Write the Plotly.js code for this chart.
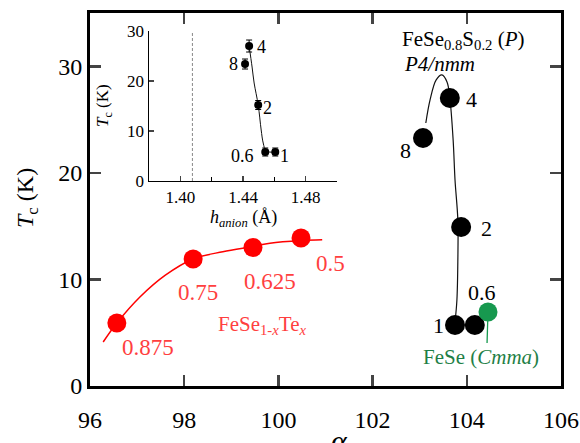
<!DOCTYPE html>
<html>
<head>
<meta charset="utf-8">
<script src="https://cdn.plot.ly/plotly-3.0.1.min.js"></script>
<style>
html,body{margin:0;padding:0;background:#fff;}
#chart{width:580px;height:443px;}
#chart svg text{font-family:"Liberation Serif","Times New Roman",serif !important;}
</style>
</head>
<body>
<div id="chart"></div>
<script>
// ---- Main panel data ----
const teAlpha = [96.57, 98.19, 99.46, 100.48];
const teTc = [5.91, 11.92, 13.0, 13.89];
const teLabels = ["0.875", "0.75", "0.625", "0.5"];
const teCurveAlpha = [96.28, 96.57, 97.06, 97.6, 98.19, 98.82, 99.46, 99.82, 100.48, 100.93];
const teCurveTc = [4.13, 5.91, 8.35, 10.4, 11.92, 12.6, 13.1, 13.4, 13.65, 13.72];

const sAlpha = [103.07, 103.64, 103.88, 103.75, 104.17];
const sTc = [23.27, 27.02, 14.92, 5.72, 5.72];
const sLabels = ["8", "4", "2", "1", "0.6"];
const sCurveAlpha = [103.13, 103.22, 103.35, 103.47, 103.58, 103.64, 103.71, 103.75, 103.81, 103.81, 103.79, 103.75];
const sCurveTc = [24.68, 26.84, 28.72, 29.19, 28.53, 27.02, 23.08, 19.33, 15.57, 11.82, 8.07, 6.0];

const feseAlpha = [104.45];
const feseTc = [6.94];
const feseLeadAlpha = [104.45, 104.43];
const feseLeadTc = [6.94, 4.03];

// ---- Inset data ----
const hAnion = [1.4413, 1.4439, 1.4497, 1.4542, 1.4606];
const hTc = [23.4, 27.0, 15.2, 5.8, 5.8];
const hTcErr = [1.0, 1.2, 0.9, 0.8, 0.8];
const hErrX = [0.0012, 0.0012, 0.0012, 0.0015, 0.0015];
const hLabels = ["8", "4", "2", "0.6", "1"];
const hCurveX = [1.4439, 1.4458, 1.4471, 1.4497, 1.4516, 1.4529, 1.4548, 1.4606];
const hCurveY = [27.0, 22.8, 19.6, 15.2, 10.2, 7.6, 6.0, 5.8];
const hDashX = [1.4077, 1.4077];
const hDashY = [0, 30];

const FONT = "Liberation Serif";
const RED = "#ff0000", REDTXT = "#ff3f3f", GREEN = "#17994f", GREENTXT = "#1f7f47";

const traces = [
  {x: teCurveAlpha, y: teCurveTc, mode: "lines", line: {color: RED, width: 1.5, shape: "spline", smoothing: 1}, xaxis: "x", yaxis: "y", hoverinfo: "skip"},
  {x: teAlpha, y: teTc, mode: "markers", marker: {color: RED, size: 19}, xaxis: "x", yaxis: "y"},
  {x: sCurveAlpha, y: sCurveTc, mode: "lines", line: {color: "#111", width: 1.2, shape: "spline", smoothing: 1}, xaxis: "x", yaxis: "y", hoverinfo: "skip"},
  {x: sAlpha, y: sTc, mode: "markers", marker: {color: "#000", size: 20}, xaxis: "x", yaxis: "y"},
  {x: feseLeadAlpha, y: feseLeadTc, mode: "lines", line: {color: GREEN, width: 1.3}, xaxis: "x", yaxis: "y"},
  {x: feseAlpha, y: feseTc, mode: "markers", marker: {color: GREEN, size: 19}, xaxis: "x", yaxis: "y"},
  {x: hDashX, y: hDashY, mode: "lines", line: {color: "#888", width: 1, dash: "3px,2px"}, xaxis: "x2", yaxis: "y2"},
  {x: hCurveX, y: hCurveY, mode: "lines", line: {color: "#111", width: 1, shape: "spline", smoothing: 1}, xaxis: "x2", yaxis: "y2"},
  {x: hAnion, y: hTc, mode: "markers", marker: {color: "#000", size: 8},
   error_y: {type: "data", array: hTcErr, color: "#000", thickness: 1, width: 3},
   error_x: {type: "data", array: hErrX, color: "#000", thickness: 1, width: 3},
   xaxis: "x2", yaxis: "y2"}
];

const ann = [];
function A(text, x, y, opts) {
  ann.push(Object.assign({text: text, x: x, y: y, xref: "x", yref: "y", showarrow: false,
    xanchor: "center", yanchor: "middle",
    font: {family: FONT, size: 22, color: "#000"}}, opts || {}));
}
// main black labels
A("FeSe<sub>0.8</sub>S<sub>0.2</sub> (<i>P</i>)", 102.58, 32.5, {xanchor: "left", font: {family: FONT, size: 21, color: "#000"}});
A("<i>P4/nmm</i>", 102.62, 30.2, {xanchor: "left", font: {family: FONT, size: 21, color: "#000"}});
A(sLabels[1], 104.11, 26.9);
A(sLabels[0], 102.69, 22.1);
A(sLabels[2], 104.41, 14.8);
A(sLabels[3], 103.4, 5.72);
A(sLabels[4], 104.32, 8.8);
A("FeSe (<i>Cmma</i>)", 104.3, 2.72, {font: {family: FONT, size: 21, color: GREENTXT}});
// red labels
A(teLabels[0], 97.23, 3.57, {font: {family: FONT, size: 23, color: REDTXT}});
A(teLabels[1], 98.29, 8.82, {font: {family: FONT, size: 23, color: REDTXT}});
A(teLabels[2], 99.82, 9.76, {font: {family: FONT, size: 23, color: REDTXT}});
A(teLabels[3], 101.1, 11.5, {font: {family: FONT, size: 23, color: REDTXT}});
A("FeSe<sub>1-<i>x</i></sub>Te<sub><i>x</i></sub>", 99.65, 5.72, {font: {family: FONT, size: 21, color: REDTXT}});
// inset labels
const ip = {xref: "x2", yref: "y2", font: {family: FONT, size: 18, color: "#000"}};
A(hLabels[1], 1.4517, 26.8, ip);
A(hLabels[0], 1.4340, 23.5, ip);
A(hLabels[2], 1.4556, 14.7, ip);
A(hLabels[3], 1.4395, 5.0, ip);
A(hLabels[4], 1.4663, 5.0, ip);
// axis titles
function P(text, px, py, size, angle) {
  ann.push({text: text, xref: "paper", yref: "paper", x: (px-90)/471, y: (386-py)/373,
    xanchor: "center", yanchor: "middle", textangle: angle || 0, showarrow: false,
    font: {family: FONT, size: size, color: "#000"}});
}
P("<i>T</i><sub>c</sub> (K)", 27, 198, 24, -90);
P("<i>α</i>", 339, 440, 30);
P("<i>T</i><sub>c</sub> (K)", 104, 106, 17, -90);
P("<i>h</i><sub><i>anion</i></sub> (Å)", 243, 219, 18);

const layout = {
  width: 580, height: 443,
  margin: {l: 90, r: 19, t: 13, b: 57},
  paper_bgcolor: "#fff", plot_bgcolor: "#fff",
  showlegend: false,
  font: {family: FONT, color: "#000"},
  xaxis: {range: [96, 106], tickvals: [96, 98, 100, 102, 104, 106], ticks: "inside", ticklen: 11, tickwidth: 2.5,
    showline: true, linewidth: 3, linecolor: "#000", mirror: "ticks", showgrid: false, zeroline: false,
    tickfont: {family: FONT, size: 24, color: "#000"}, ticklabelstandoff: 10},
  yaxis: {range: [0, 35], tickvals: [0, 10, 20, 30], ticks: "inside", ticklen: 11, tickwidth: 2.5,
    showline: true, linewidth: 3, linecolor: "#000", mirror: "ticks", showgrid: false, zeroline: false,
    tickfont: {family: FONT, size: 24, color: "#000"}},
  xaxis2: {domain: [0.1253, 0.5244], anchor: "y2", range: [1.38, 1.50], tickvals: [1.40, 1.44, 1.48],
    ticktext: ["1.40", "1.44", "1.48"],
    ticks: "inside", ticklen: 5, tickwidth: 1.2, showline: true, linewidth: 1.5, linecolor: "#000",
    showgrid: false, zeroline: false, tickfont: {family: FONT, size: 17, color: "#000"},
    minor: {tickvals: [1.42, 1.46, 1.50], ticks: "inside", ticklen: 4, tickwidth: 1.2, tickcolor: "#000"}},
  yaxis2: {domain: [0.5496, 0.9517], anchor: "x2", range: [0, 30], tickvals: [0, 10, 20, 30],
    ticks: "inside", ticklen: 5, tickwidth: 1.2, showline: true, linewidth: 1.5, linecolor: "#000",
    showgrid: false, zeroline: false, tickfont: {family: FONT, size: 17, color: "#000"}},
  annotations: ann
};

Plotly.newPlot("chart", traces, layout, {displayModeBar: false, staticPlot: true});
</script>
</body>
</html>
